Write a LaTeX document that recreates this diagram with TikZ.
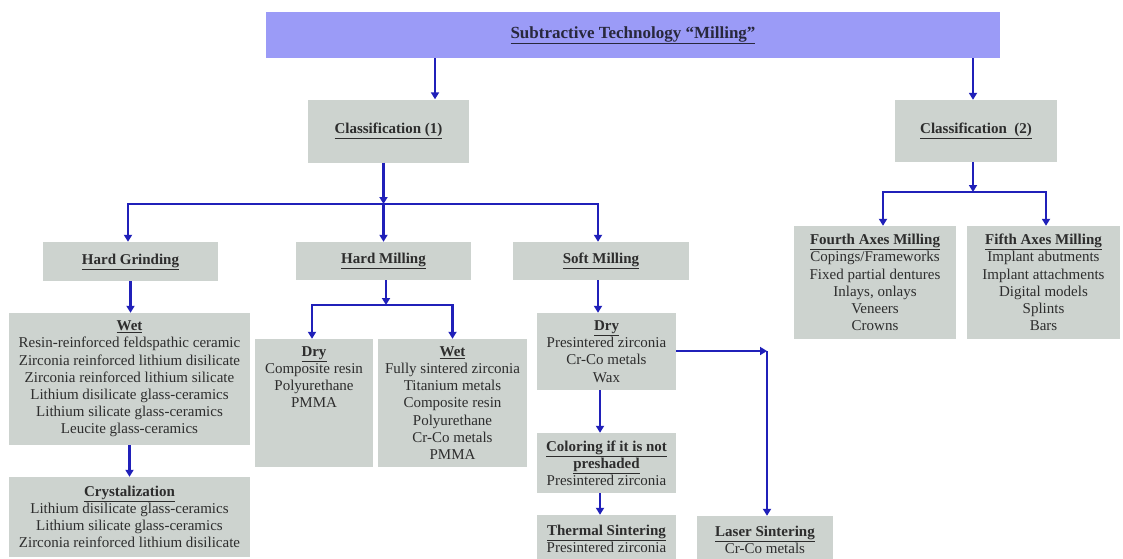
\documentclass[tikz,border=0pt]{standalone}
\usepackage{fontspec}
\setmainfont{Liberation Serif}
\usetikzlibrary{arrows.meta,calc}
\definecolor{boxgray}{RGB}{205,211,207}
\definecolor{titlebg}{RGB}{155,155,247}
\definecolor{arrowblue}{RGB}{32,32,185}
\definecolor{txt}{RGB}{45,45,45}
\definecolor{titletxt}{RGB}{40,40,60}
\newcommand{\hd}[1]{\textbf{\underline{#1}}}
\begin{document}
\begin{tikzpicture}[x=1pt,y=-1pt,
  box/.style={fill=boxgray, draw=none, inner sep=0pt, align=center, text=txt,
    font=\fontsize{15}{17.2}\selectfont},
  titlebox/.style={fill=titlebg, draw=none, inner sep=0pt, text=titletxt,
    font=\fontsize{17}{20}\selectfont},
  conn/.style={draw=arrowblue, line width=2.4pt},
  arr/.style={conn, -{Triangle[length=7pt,width=8pt]}},
]
\useasboundingbox (0,0) rectangle (1123,558);

% title
\node[titlebox, minimum width=734pt, minimum height=46pt] (title) at (633,35)
  {\hd{Subtractive Technology “Milling”}};

% classification
\node[box, minimum width=161pt, minimum height=63pt] (c1) at (388.5,131) {\hd{Classification (1)}};
\node[box, minimum width=162pt, minimum height=62pt] (c2) at (976,131) {\hd{Classification~~(2)}};

% level 2
\node[box, minimum width=175pt, minimum height=39pt] (hg) at (130.5,261.5) {\hd{Hard Grinding}};
\node[box, minimum width=175pt, minimum height=38pt] (hm) at (383.5,261) {\hd{Hard Milling}};
\node[box, minimum width=176pt, minimum height=38pt] (sm) at (601,261) {\hd{Soft Milling}};

% hard grinding branch
\node[box, minimum width=241pt, minimum height=132pt] (wet1) at (129.5,379)
  {\hd{Wet}\\Resin-reinforced feldspathic ceramic\\Zirconia reinforced lithium disilicate\\
   Zirconia reinforced lithium silicate\\Lithium disilicate glass-ceramics\\
   Lithium silicate glass-ceramics\\Leucite glass-ceramics};
\node[box, minimum width=241pt, minimum height=80pt] (cry) at (129.5,517)
  {\hd{Crystalization}\\Lithium disilicate glass-ceramics\\Lithium silicate glass-ceramics\\
   Zirconia reinforced lithium disilicate};

% hard milling branch
\node[box, minimum width=118pt, minimum height=128pt] (dry1) at (314,403)
  {\hd{Dry}\\Composite resin\\Polyurethane\\PMMA\\~\\~\\~};
\node[box, minimum width=149pt, minimum height=128pt] (wet2) at (452.5,403)
  {\hd{Wet}\\Fully sintered zirconia\\Titanium metals\\Composite resin\\Polyurethane\\
   Cr-Co metals\\PMMA};

% soft milling branch
\node[box, minimum width=139pt, minimum height=77pt] (dry2) at (606.5,351.5)
  {\hd{Dry}\\Presintered zirconia\\Cr-Co metals\\Wax};
\node[box, minimum width=139pt, minimum height=60pt] (col) at (606.5,463)
  {\hd{Coloring if it is not}\\\hd{preshaded}\\Presintered zirconia};
\node[box, minimum width=139pt, minimum height=48pt] (ts) at (606.5,539)
  {\hd{Thermal Sintering}\\Presintered zirconia};
\node[box, minimum width=136pt, minimum height=48pt] (ls) at (765,540)
  {\hd{Laser Sintering}\\Cr-Co metals};

% classification 2 branch
\node[box, minimum width=162pt, minimum height=113pt] (ax4) at (875,282.5)
  {\hd{Fourth Axes Milling}\\Copings/Frameworks\\Fixed partial dentures\\Inlays, onlays\\
   Veneers\\Crowns};
\node[box, minimum width=153pt, minimum height=113pt] (ax5) at (1043.5,282.5)
  {\hd{Fifth Axes Milling}\\Implant abutments\\Implant attachments\\Digital models\\
   Splints\\Bars};

% connectors: title
\draw[arr] ([xshift=46.5pt]c1.north |- title.south) -- ([xshift=46.5pt]c1.north);
\draw[arr] ([xshift=-3pt]c2.north |- title.south) -- ([xshift=-3pt]c2.north);

% classification 1
\coordinate (j1) at (383.5,204);
\draw[arr] (c1.south -| j1) -- (j1);
\draw[arr] (j1) -| ([xshift=-2.5pt]hg.north);
\draw[arr] (j1) -- (hm.north);
\draw[arr] (j1) -| ([xshift=-3pt]sm.north);

% hard grinding
\draw[arr] (hg.south) -- (hg.south |- wet1.north);
\draw[arr] (wet1.south) -- (cry.north);

% hard milling
\coordinate (j2) at (386,305);
\draw[arr] (hm.south -| j2) -- (j2);
\draw[arr] (j2) -| ([xshift=-2pt]dry1.north);
\draw[arr] (j2) -| (wet2.north);

% soft milling
\draw[arr] ([xshift=-3pt]sm.south) -- ([xshift=-3pt]sm.south |- dry2.north);
\draw[arr] ([xshift=-6.5pt]dry2.south) -- ([xshift=-6.5pt]col.north);
\draw[arr] ([xshift=-6.5pt]col.south) -- ([xshift=-6.5pt]ts.north);
\coordinate (k) at (767,351);
\draw[arr] (dry2.east |- k) -- (k);
\draw[arr] (k) -- (k |- ls.north);

% classification 2
\coordinate (j3) at (973,192);
\draw[arr] (c2.south -| j3) -- (j3);
\draw[arr] (j3) -| ([xshift=8pt]ax4.north);
\draw[arr] (j3) -| ([xshift=2.5pt]ax5.north);
\end{tikzpicture}
\end{document}
